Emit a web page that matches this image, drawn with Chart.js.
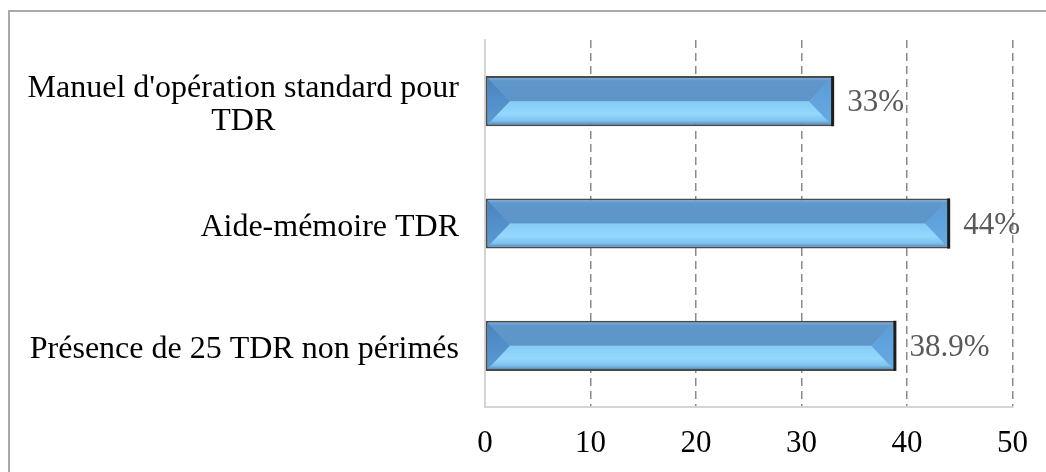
<!DOCTYPE html>
<html>
<head>
<meta charset="utf-8">
<script src="https://cdn.jsdelivr.net/npm/chart.js@4.4.1/dist/chart.umd.min.js"></script>
<style>
  html, body { margin: 0; padding: 0; background: #ffffff; overflow: hidden; }
  #frame {
    position: absolute; left: 8px; top: 10px; width: 1200px; height: 600px;
    border-left: 2px solid #a9a9a9; border-top: 2px solid #a9a9a9;
  }
  #wrap { position: absolute; left: 0; top: 0; width: 1046px; height: 472px; }
  canvas { display: block; }
</style>
</head>
<body>
<div id="frame"></div>
<div id="wrap"><canvas id="chart" width="1046" height="472"></canvas></div>
<script>
// Categories (top to bottom) and their percentages
const categories = [
  ["Manuel d'opération standard pour", "TDR"],
  "Aide-mémoire TDR",
  "Présence de 25 TDR non périmés"
];
const percentValues = [33, 44, 38.9];
const axisTicks = [0, 10, 20, 30, 40, 50];

const SERIF = "'Liberation Serif', 'Times New Roman', serif";

// Category labels: each wrapped block is centred on its widest line and
// the block is right-aligned against the value axis.
const categoryLabels = {
  id: 'categoryLabels',
  afterDraw(chart) {
    const { ctx, chartArea } = chart;
    const yScale = chart.scales.y;
    const rightX = chartArea.left - 26;
    const lineH = 33;
    ctx.save();
    ctx.font = '32px ' + SERIF;
    ctx.fillStyle = '#000000';
    ctx.textAlign = 'center';
    ctx.textBaseline = 'middle';
    chart.data.labels.forEach((lab, i) => {
      const lines = Array.isArray(lab) ? lab : [lab];
      const w = Math.max(...lines.map(t => ctx.measureText(t).width));
      const cx = rightX - w / 2;
      const cy = yScale.getPixelForTick(i) + 4;
      lines.forEach((t, j) => {
        ctx.fillText(t, cx, cy + (j - (lines.length - 1) / 2) * lineH);
      });
    });
    ctx.restore();
  }
};

// Bevelled face painted inside each bar, plus the value label at its end.
const bevelBars = {
  id: 'bevelBars',
  afterDatasetsDraw(chart) {
    const { ctx } = chart;
    const meta = chart.getDatasetMeta(0);
    const values = chart.data.datasets[0].data;
    meta.data.forEach((bar, i) => {
      const { x, y, base, height } = bar.getProps(['x', 'y', 'base', 'height'], true);
      const b = 2;
      const L = Math.min(base, x) + b, R = Math.max(base, x) - b;
      const T = y - height / 2 + b, B = y + height / 2 - b;
      const M = (T + B) / 2;
      const d = Math.min(22, (R - L) / 2);

      ctx.save();
      // upper face
      let g = ctx.createLinearGradient(0, T, 0, M);
      g.addColorStop(0, '#77acdc');
      g.addColorStop(0.12, '#5f97cb');
      g.addColorStop(1, '#5d95c9');
      ctx.fillStyle = g;
      ctx.beginPath();
      ctx.moveTo(L, T); ctx.lineTo(R, T); ctx.lineTo(R - d, M); ctx.lineTo(L + d, M);
      ctx.closePath(); ctx.fill();

      // lower face
      g = ctx.createLinearGradient(0, M, 0, B);
      g.addColorStop(0, '#86cbf4');
      g.addColorStop(0.55, '#93d8fd');
      g.addColorStop(0.85, '#7fc2ee');
      g.addColorStop(1, '#5b91c4');
      ctx.fillStyle = g;
      ctx.beginPath();
      ctx.moveTo(L + d, M); ctx.lineTo(R - d, M); ctx.lineTo(R, B); ctx.lineTo(L, B);
      ctx.closePath(); ctx.fill();

      // left bevel
      g = ctx.createLinearGradient(0, T, 0, B);
      g.addColorStop(0, '#4a84bf');
      g.addColorStop(1, '#5b9ad4');
      ctx.fillStyle = g;
      ctx.beginPath();
      ctx.moveTo(L, T); ctx.lineTo(L + d, M); ctx.lineTo(L, B);
      ctx.closePath(); ctx.fill();

      // right bevel
      g = ctx.createLinearGradient(0, T, 0, B);
      g.addColorStop(0, '#5a9bd6');
      g.addColorStop(1, '#66abe4');
      ctx.fillStyle = g;
      ctx.beginPath();
      ctx.moveTo(R, T); ctx.lineTo(R - d, M); ctx.lineTo(R, B);
      ctx.closePath(); ctx.fill();

      // dark shadow edge on the right end
      ctx.fillStyle = '#1e1e1e';
      ctx.fillRect(R, T - b, b + 1, B - T + 2 * b);

      // value label
      ctx.font = '31px ' + SERIF;
      ctx.fillStyle = '#595959';
      ctx.textAlign = 'left';
      ctx.textBaseline = 'middle';
      ctx.fillText(values[i] + '%', Math.max(base, x) + 14, y + 2);
      ctx.restore();
    });
  }
};

new Chart(document.getElementById('chart'), {
  type: 'bar',
  data: {
    labels: categories,
    datasets: [{
      data: percentValues,
      backgroundColor: '#6aa8dc',
      borderColor: '#4a4a4a',
      borderWidth: 2,
      borderSkipped: false,
      categoryPercentage: 1,
      barPercentage: 0.41
    }]
  },
  options: {
    indexAxis: 'y',
    responsive: false,
    devicePixelRatio: 1,
    animation: false,
    layout: { padding: { top: 40, right: 33, bottom: 0, left: 0 } },
    plugins: { legend: { display: false }, tooltip: { enabled: false } },
    scales: {
      x: {
        min: axisTicks[0],
        max: axisTicks[axisTicks.length - 1],
        afterBuildTicks(scale) { scale.ticks = axisTicks.map(v => ({ value: v })); },
        afterFit(scale) { scale.height = 65; },
        ticks: {
          color: '#000000',
          font: { family: SERIF, size: 31 },
          padding: 18,
          maxRotation: 0
        },
        grid: {
          drawTicks: false,
          color: ctx => (ctx.tick && ctx.tick.value === 0) ? 'rgba(0,0,0,0)' : '#8a8a8a',
          lineWidth: 1.5
        },
        border: { display: true, color: '#d4d4d4', width: 2, dash: [8, 5] }
      },
      y: {
        afterFit(scale) { scale.width = 485; },
        ticks: { display: false },
        grid: { display: false, drawTicks: false },
        border: { display: true, color: '#d4d4d4', width: 2 }
      }
    }
  },
  plugins: [categoryLabels, bevelBars]
});
</script>
</body>
</html>
